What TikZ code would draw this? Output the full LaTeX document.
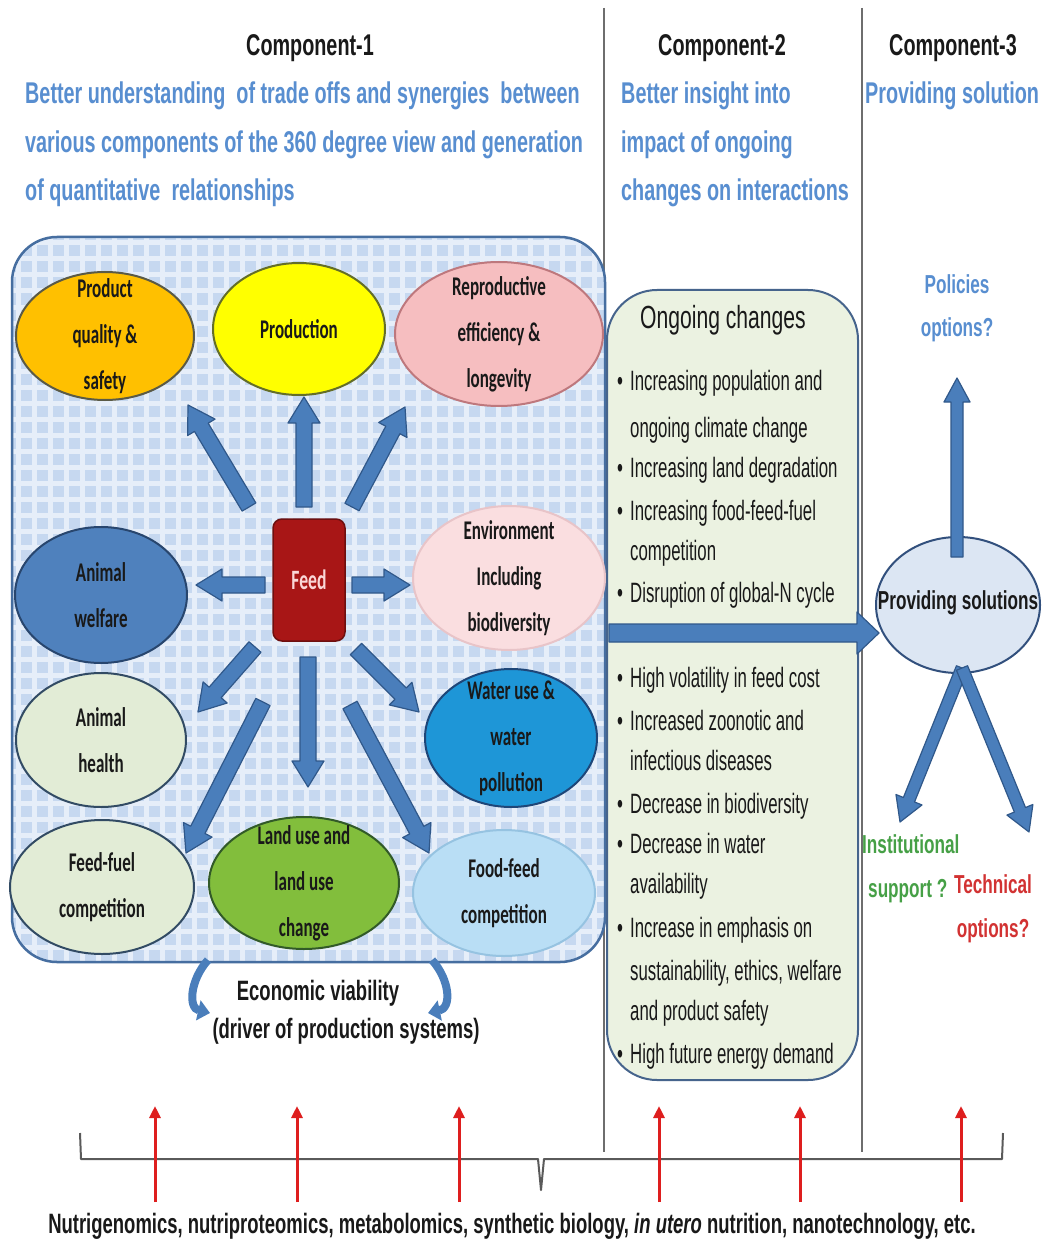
\documentclass[tikz,border=0pt]{standalone}
\usepackage{fontspec}
\setmainfont{Liberation Sans}
\newfontfamily\fa{Liberation Sans}[FakeStretch=0.66]
\newfontfamily\fb{Liberation Sans}[FakeStretch=0.6]
\newfontfamily\fc{Carlito}[FakeStretch=0.63]
\usetikzlibrary{calc,arrows.meta,shapes.geometric}

\definecolor{ablue}{RGB}{74,126,187}
\definecolor{adark}{RGB}{48,88,138}
\definecolor{ttblue}{RGB}{88,142,208}
\definecolor{txt}{RGB}{25,25,25}
\definecolor{ared}{RGB}{222,30,30}
\definecolor{cprod}{RGB}{255,192,0}\definecolor{dprod}{RGB}{90,90,70}
\definecolor{cyel}{RGB}{255,255,0}\definecolor{dyel}{RGB}{100,110,40}
\definecolor{cpink}{RGB}{246,190,192}\definecolor{dpink}{RGB}{190,120,125}
\definecolor{cwelf}{RGB}{79,129,189}\definecolor{dwelf}{RGB}{40,70,110}
\definecolor{cenv}{RGB}{250,222,224}\definecolor{denv}{RGB}{232,196,200}
\definecolor{clg}{RGB}{226,236,214}\definecolor{dlg}{RGB}{50,75,100}
\definecolor{cwater}{RGB}{30,150,215}\definecolor{dwater}{RGB}{30,70,120}
\definecolor{cland}{RGB}{130,190,60}\definecolor{dland}{RGB}{50,90,40}
\definecolor{cfood}{RGB}{185,222,245}\definecolor{dfood}{RGB}{150,195,225}
\definecolor{gridbg}{RGB}{198,216,240}
\definecolor{gridln}{RGB}{230,238,249}
\definecolor{boxedge}{RGB}{70,110,160}
\definecolor{ogfill}{RGB}{235,242,225}
\definecolor{psfill}{RGB}{220,230,243}
\definecolor{igreen}{RGB}{70,160,70}
\definecolor{tred}{RGB}{210,50,50}

% block arrow: [style] from, to, shaft half width, head half width, head length
\newcommand\blockarrow[6][]{%
  \coordinate (ba-h) at ($(#3)!#6!(#2)$);
  \draw[blockarrow,#1] ($(#2)!#4!90:(#3)$) -- ($(ba-h)!#4!-90:(#2)$) -- ($(ba-h)!#5!-90:(#2)$) -- (#3)
     -- ($(ba-h)!#5!90:(#2)$) -- ($(ba-h)!#4!90:(#2)$) -- ($(#2)!#4!-90:(#3)$) -- cycle;
}
% ellipse with text: name, x, y, rx, ry, fill, draw, text
\newcommand\ellnode[8]{%
  \node[ell, fill=#6, draw=#7, minimum width={2*#4pt}, minimum height={2*#5pt}] (#1) at (#2,#3) {};
  \node[etext] (#1-t) at (#1.center) {#8};
}

\begin{document}
\begin{tikzpicture}[x=1pt,y=-1pt,
  ell/.style={ellipse, line width=2pt, inner sep=0pt},
  etext/.style={font=\fc\bfseries\fontsize{27}{46}\selectfont, align=center, text=txt, inner sep=0pt},
  blockarrow/.style={fill=ablue, draw=adark, line width=1.2pt, line join=round},
  title/.style={font=\fa\bfseries\fontsize{30}{36}\selectfont, text=txt, anchor=base, inner sep=0pt},
  bluet/.style={font=\fa\bfseries\fontsize{30}{36}\selectfont, text=ttblue, anchor=base west, inner sep=0pt},
  bul/.style={font=\fb\fontsize{28}{34}\selectfont, text=txt, anchor=base west, inner sep=0pt},
  redarrow/.style={draw=ared, line width=3pt, -{Triangle[length=12pt,width=11pt]}},
  divider/.style={draw={rgb,255:red,110;green,110;blue,110}, line width=1.3pt},
]
\useasboundingbox (0,0) rectangle (1043,1246);
\fill[white] (0,0) rectangle (1043,1246);

% dividers
\coordinate (d1t) at (604,8); \coordinate (d1b) at (604,1152);
\coordinate (d2t) at (862,8); \coordinate (d2b) at (862,1152);
\draw[divider] (d1t) -- (d1b);
\draw[divider] (d2t) -- (d2b);

% titles
\node[title] (c1) at (310,56) {Component-1};
\node[title] (c2) at (722,56) {Component-2};
\node[title] (c3) at (953,56) {Component-3};

\node[bluet] (b11) at (25,104) {Better understanding\ \ of trade offs and synergies\ \ between};
\node[bluet] (b12) at (25,153) {various components of the 360 degree view and generation};
\node[bluet] (b13) at (25,201) {of quantitative\ \ relationships};
\node[bluet] (b21) at (621,104) {Better insight into};
\node[bluet] (b22) at (621,153) {impact of ongoing};
\node[bluet] (b23) at (621,201) {changes on interactions};
\node[bluet] (b31) at (865,104) {Providing solution};

% component-1 box with grid pattern
\begin{scope}
  \clip[rounded corners=45pt] (12,237) rectangle (605,962);
  \fill[gridbg] (12,237) rectangle (605,962);
  \foreach \gx in {18,34,...,605} \draw[gridln, line width=5pt] (\gx,237) -- (\gx,962);
  \foreach \gy in {243,259,...,962} \draw[gridln, line width=5pt] (12,\gy) -- (605,\gy);
\end{scope}
\draw[boxedge, line width=2.5pt, rounded corners=45pt] (12,237) rectangle (605,962);

% ellipses
\ellnode{prod}{105}{336}{89}{64}{cprod}{dprod}{Product\\quality \&\\safety}
\ellnode{produc}{299}{329}{86}{66}{cyel}{dyel}{Production}
\ellnode{repro}{499}{334}{104}{72}{cpink}{dpink}{Reproductive\\efficiency \&\\longevity}
\ellnode{welf}{101}{595}{86}{68}{cwelf}{dwelf}{Animal\\welfare}
\ellnode{env}{509}{578}{96}{72}{cenv}{denv}{Environment\\Including\\biodiversity}
\ellnode{health}{101}{740}{85}{67}{clg}{dlg}{Animal\\health}
\ellnode{water}{511}{738}{86}{69}{cwater}{dwater}{Water use \&\\water\\pollution}
\ellnode{fuel}{102}{887}{92}{67}{clg}{dlg}{Feed-fuel\\competition}
\ellnode{land}{304}{883}{95}{66}{cland}{dland}{Land use and\\land use\\change}
\ellnode{food}{504}{893}{91}{63}{cfood}{dfood}{Food-feed\\competition}

% feed
\node[draw={rgb,255:red,110;green,15;blue,15}, line width=1.5pt, fill={rgb,255:red,168;green,22;blue,22}, rounded corners=9pt,
  minimum width=72pt, minimum height=122pt, inner sep=0pt, text={rgb,255:red,250;green,215;blue,215},
  font=\fc\bfseries\fontsize{28}{32}\selectfont] (feed) at (309,580) {Feed};

% feed arrows
\coordinate (a1s) at (304,507); \coordinate (a1e) at (304,397);
\coordinate (a2s) at (249,507); \coordinate (a2e) at (188,405);
\coordinate (a3s) at (352,507); \coordinate (a3e) at (405,407);
\coordinate (a4s) at (265,585); \coordinate (a4e) at (196,585);
\coordinate (a5s) at (352,585); \coordinate (a5e) at (410,585);
\coordinate (a6s) at (255,647); \coordinate (a6e) at (198,712);
\coordinate (a7s) at (356,649); \coordinate (a7e) at (419,712);
\coordinate (a8s) at (308,657); \coordinate (a8e) at (308,787);
\coordinate (a9s) at (263,702); \coordinate (a9e) at (186,853);
\coordinate (a10s) at (350,705); \coordinate (a10e) at (429,853);
\foreach \i in {1,...,10} {\blockarrow{a\i s}{a\i e}{8pt}{16pt}{26pt}}

% economic viability
\coordinate (evl1) at (208,960); \coordinate (evl2) at (210,1013);
\coordinate (evr1) at (432,960); \coordinate (evr2) at (428,1013);
\draw[ablue, line width=8pt, -{Triangle[length=12pt,width=20pt]}] (evl1) .. controls (190,980) and (188,1008) .. (evl2);
\draw[ablue, line width=8pt, -{Triangle[length=12pt,width=20pt]}] (evr1) .. controls (450,980) and (452,1008) .. (evr2);
\node[font=\fa\bfseries\fontsize{28}{34}\selectfont, text=txt, anchor=base, inner sep=0pt] (ev1) at (318,1000) {Economic viability};
\node[font=\fa\bfseries\fontsize{28}{34}\selectfont, text=txt, anchor=base, inner sep=0pt] (ev2) at (346,1038) {(driver of production systems)};

% ongoing changes box
\node[draw={rgb,255:red,70;green,100;blue,140}, line width=2pt, fill=ogfill, rounded corners=50pt,
  minimum width=251pt, minimum height=790pt, inner sep=0pt] (ogbox) at (732.5,685) {};
\node[font=\fa\fontsize{32}{38}\selectfont, text=txt, anchor=base, inner sep=0pt] (oghead) at (723,328) {Ongoing changes};

\foreach \n/\yy/\bb/\tt in {
  1/380/1/Increasing population and,
  2/427/0/ongoing climate change,
  3/467/1/Increasing land degradation,
  4/510/1/Increasing food-feed-fuel,
  5/550/0/competition,
  6/592/1/Disruption of global-N cycle,
  7/677/1/High volatility in feed cost,
  8/720/1/Increased zoonotic and,
  9/760/0/infectious diseases,
  10/803/1/Decrease in biodiversity,
  11/843/1/Decrease in water,
  12/883/0/availability,
  13/927/1/Increase in emphasis on,
  14/970/0/{sustainability, ethics, welfare},
  15/1010/0/and product safety,
  16/1053/1/High future energy demand} {
  \node[bul] (og\n) at (630,\yy+10) {\tt};
  \ifnum\bb=1 \node[bul] (ogb\n) at (617,\yy+10) {•}; \fi
}

% providing solutions
\node[ellipse, draw={rgb,255:red,50;green,80;blue,125}, line width=2pt, fill=psfill, minimum width=164pt, minimum height=136pt, inner sep=0pt] (ps) at (958,605) {};
\node[font=\fa\bfseries\fontsize{26}{30}\selectfont, text=txt, inner sep=0pt] (ps-t) at (958,603) {Providing solutions};

\coordinate (hs) at (609,633); \coordinate (he) at (879,633);
\blockarrow{hs}{he}{9pt}{21pt}{22pt}
\coordinate (us) at (957,557); \coordinate (ue) at (957,378);
\blockarrow{us}{ue}{6pt}{13pt}{24pt}
\coordinate (vs) at (962,668); \coordinate (vle) at (900,822); \coordinate (vre) at (1029,832);
\blockarrow{vs}{vle}{6pt}{14pt}{24pt}
\blockarrow{vs}{vre}{6pt}{14pt}{24pt}

\node[font=\fa\bfseries\fontsize{26}{32}\selectfont, text=ttblue, anchor=base, inner sep=0pt] (pol1) at (957,294) {Policies};
\node[font=\fa\bfseries\fontsize{26}{32}\selectfont, text=ttblue, anchor=base, inner sep=0pt] (pol2) at (957,336) {options?};
\node[font=\fa\bfseries\fontsize{26}{32}\selectfont, text=igreen, anchor=base west, inner sep=0pt] (ins1) at (862,853) {Institutional};
\node[font=\fa\bfseries\fontsize{26}{32}\selectfont, text=igreen, anchor=base west, inner sep=0pt] (ins2) at (868,897) {support ?};
\node[font=\fa\bfseries\fontsize{26}{32}\selectfont, text=tred, anchor=base, inner sep=0pt] (tec1) at (993,893) {Technical};
\node[font=\fa\bfseries\fontsize{26}{32}\selectfont, text=tred, anchor=base, inner sep=0pt] (tec2) at (993,937) {options?};

% bracket
\coordinate (brl) at (80,1133); \coordinate (brr) at (1003,1133);
\coordinate (brm) at (541,1190);
\draw[draw={rgb,255:red,90;green,90;blue,90}, line width=2pt, line join=round] (brl) -- (81,1159) -- (538,1159) -- (brm) -- (544,1159) -- (1002,1159) -- (brr);

% red arrows
\foreach \rx [count=\k] in {155,297,459,659,800,961} {
  \coordinate (r\k s) at (\rx,1202); \coordinate (r\k e) at (\rx,1106);
  \draw[redarrow] (r\k s) -- (r\k e);
}

\node[font=\fa\bfseries\fontsize{28}{32}\selectfont, text=txt, anchor=base, inner sep=0pt] (bottom) at (512,1233)
  {Nutrigenomics, nutriproteomics, metabolomics, synthetic biology, \textit{in utero} nutrition, nanotechnology, etc.};
\end{tikzpicture}
\end{document}
